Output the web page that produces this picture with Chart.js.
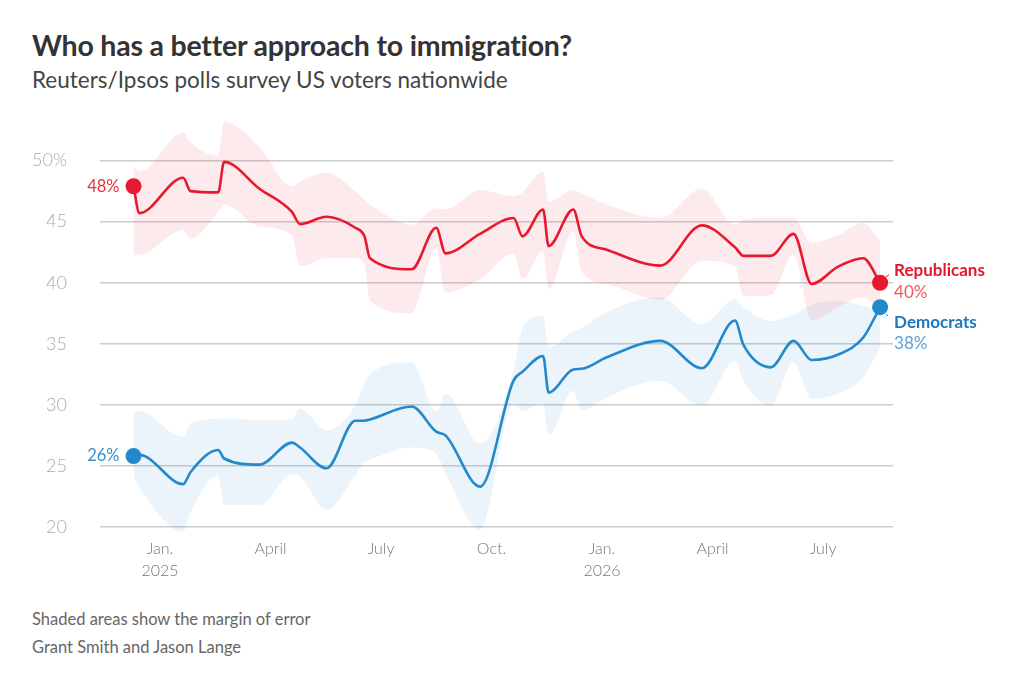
<!DOCTYPE html>
<html>
<head>
<meta charset="utf-8">
<script src="https://cdn.jsdelivr.net/npm/chart.js@4.4.1/dist/chart.umd.min.js"></script>
<style>
  html, body { margin: 0; padding: 0; background: #fff; }
  body { width: 1024px; height: 676px; position: relative; overflow: hidden; font-family: Lato, "Noto Sans", sans-serif; }
  h1 { position: absolute; left: 32px; top: 28px; margin: 0; font-size: 28.5px; font-weight: 700; color: #333; letter-spacing: -0.2px; }
  .sub { position: absolute; left: 32px; top: 66px; margin: 0; font-size: 22.5px; font-weight: 400; color: #444; }
  .note { position: absolute; left: 32px; font-size: 16.5px; color: #666; }
  #wrap { position: absolute; left: 0; top: 68px; width: 1024px; height: 532px; }
</style>
</head>
<body>
<h1>Who has a better approach to immigration?</h1>
<div class="sub">Reuters/Ipsos polls survey US voters nationwide</div>
<div id="wrap"><canvas id="chart"></canvas></div>
<div class="note" style="top:609px">Shaded areas show the margin of error</div>
<div class="note" style="top:637px">Grant Smith and Jason Lange</div>
<script>
// poll dates, in months after Jan. 1 2025
const pollMonths = [-0.72, -0.56, 0.63, 0.83, 1.58, 1.74, 2.7, 3.58, 3.8, 4.52, 5.3, 5.55, 5.7, 6.83, 7.5, 7.75, 8.69,
  9.6, 9.84, 10.4, 10.55, 11.22, 11.45, 12.13, 13.58, 14.71, 15.61, 15.84, 16.58, 17.2, 17.69, 18.4, 19.09, 19.55];

const repShare = [47.9, 45.7, 48.6, 47.5, 47.4, 49.9, 47.7, 45.8, 44.8, 45.4, 44.5, 43.8, 42.0, 41.1, 44.5, 42.4, 44.0,
  45.3, 43.8, 46.0, 43.0, 46.0, 43.8, 42.7, 41.4, 44.7, 42.9, 42.2, 42.2, 44.0, 39.9, 41.3, 42.0, 40.0];
const repHigh = [49.6, 49.1, 52.3, 51.5, 50.4, 53.2, 51.1, 47.9, 48.3, 49.0, 47.5, 46.8, 46.4, 44.75, 46.1, 46.0, 47.6,
  47.1, 47.4, 49.1, 46.65, 47.6, 47.3, 46.4, 45.3, 47.7, 44.75, 45.15, 45.3, 45.3, 43.25, 43.9, 44.9, 43.4];
const repLow = [42.3, 42.3, 44.3, 43.6, 45.8, 46.4, 44.6, 43.9, 41.35, 42.0, 42.0, 41.5, 38.5, 37.5, 42.8, 39.2, 40.3,
  42.4, 40.3, 42.6, 39.45, 44.2, 40.9, 39.9, 38.6, 41.8, 41.35, 38.9, 39.0, 42.3, 36.9, 38.0, 38.8, 37.7];

const demShare = [25.8, 25.9, 23.5, 24.5, 26.3, 25.6, 25.1, 26.9, 26.5, 24.8, 28.7, 28.7, 28.8, 29.86, 27.8, 27.5, 23.3,
  32.0, 32.7, 34.0, 31.0, 32.9, 32.95, 33.9, 35.24, 33.0, 36.9, 34.9, 33.07, 35.24, 33.67, 34.1, 35.5, 38.0];
const demHigh = [29.4, 29.48, 27.36, 28.5, 28.85, 28.9, 28.72, 28.8, 29.67, 27.9, 29.94, 31.8, 32.5, 33.47, 29.5, 30.9, 26.8,
  32.8, 36.3, 37.3, 34.7, 36.0, 36.3, 37.6, 38.8, 36.6, 38.6, 38.0, 36.87, 37.4, 38.2, 38.5, 38.1, 37.7];
const demLow = [24.1, 23.2, 19.6, 21.2, 24.2, 21.8, 21.8, 24.3, 24.1, 21.4, 24.2, 25.3, 25.5, 26.5, 26.0, 24.4, 19.76,
  30.1, 29.5, 30.1, 27.5, 31.17, 29.5, 30.6, 31.97, 29.94, 33.6, 31.97, 29.94, 33.47, 30.5, 30.9, 32.25, 34.7];

const tickMonths = [0, 3, 6, 9, 12, 15, 18];
const tickLabels = [['Jan.', '2025'], 'April', 'July', 'Oct.', ['Jan.', '2026'], 'April', 'July'];
const yTicks = [20, 25, 30, 35, 40, 45, 50];

const RED = '#e8192f', BLUE = '#2389cb';
const pts = arr => arr.map((v, i) => ({ x: pollMonths[i], y: v }));
const last = pollMonths.length - 1;

const band = (data, color, fill) => ({
  data: pts(data), borderWidth: 0, pointRadius: 0, fill: fill, backgroundColor: color,
  cubicInterpolationMode: 'monotone', order: 10
});
const line = (data, color) => ({
  data: pts(data), borderColor: color, backgroundColor: color, borderWidth: 2.6, fill: false,
  cubicInterpolationMode: 'monotone', order: 0,
  pointRadius: ctx => (ctx.dataIndex === 0 || ctx.dataIndex === last) ? 8 : 0,
  pointBorderWidth: 0
});

// start / end labels drawn next to the first and last poll
const endLabels = {
  id: 'endLabels',
  afterDatasetsDraw(chart) {
    const { ctx, scales: { x, y } } = chart;
    const x0 = x.getPixelForValue(pollMonths[0]);
    const x1 = x.getPixelForValue(pollMonths[last]);
    ctx.save();
    ctx.textBaseline = 'middle';
    ctx.font = '400 16.5px Lato, "Noto Sans", sans-serif';
    ctx.textAlign = 'right';
    ctx.fillStyle = '#e8333f';
    ctx.fillText(Math.round(repShare[0]) + '%', x0 - 14, y.getPixelForValue(repShare[0]));
    ctx.fillStyle = '#3a8fcc';
    ctx.fillText(Math.round(demShare[0]) + '%', x0 - 14, y.getPixelForValue(demShare[0]));

    const ry = y.getPixelForValue(repShare[last]);
    const dy = y.getPixelForValue(demShare[last]);
    ctx.textAlign = 'left';
    ctx.font = '700 17px Lato, "Noto Sans", sans-serif';
    ctx.fillStyle = '#e4172e';
    ctx.fillText('Republicans', x1 + 14, ry - 12);
    ctx.fillStyle = '#1a78bd';
    ctx.fillText('Democrats', x1 + 14, dy + 15);
    ctx.font = '400 17px Lato, "Noto Sans", sans-serif';
    ctx.fillStyle = '#ef5a60';
    ctx.fillText(Math.round(repShare[last]) + '%', x1 + 14, ry + 10);
    ctx.fillStyle = '#5aa2d8';
    ctx.fillText(Math.round(demShare[last]) + '%', x1 + 14, dy + 36);
    ctx.lineWidth = 1;
    ctx.strokeStyle = '#e4172e';
    ctx.beginPath(); ctx.moveTo(x1 + 6, ry - 6); ctx.lineTo(x1 + 9, ry - 8); ctx.stroke();
    ctx.strokeStyle = '#1a78bd';
    ctx.beginPath(); ctx.moveTo(x1 + 6, dy + 7); ctx.lineTo(x1 + 8, dy + 9); ctx.stroke();
    ctx.restore();
  }
};

new Chart(document.getElementById('chart').getContext('2d'), {
  type: 'line',
  data: {
    datasets: [
      line(repShare, RED),
      line(demShare, BLUE),
      band(repHigh, 'rgba(240, 60, 80, 0.11)', '+1'),
      band(repLow, 'transparent', false),
      band(demHigh, 'rgba(60, 150, 215, 0.10)', '+1'),
      band(demLow, 'transparent', false)
    ]
  },
  plugins: [endLabels],
  options: {
    responsive: true,
    maintainAspectRatio: false,
    animation: false,
    events: [],
    layout: { padding: { top: 10, bottom: 0, left: 0, right: 131 } },
    plugins: { legend: { display: false }, tooltip: { enabled: false } },
    scales: {
      x: {
        type: 'linear',
        min: -1.63,
        max: 19.9,
        afterBuildTicks: axis => { axis.ticks = tickMonths.map(v => ({ value: v })); },
        afterFit: axis => { axis.height = 67; },
        grid: { display: false },
        border: { display: false },
        ticks: {
          padding: -3,
          color: '#777',
          font: { family: 'Lato, "Noto Sans", sans-serif', size: 16, weight: 300, lineHeight: 1.35 },
          maxRotation: 0,
          autoSkip: false,
          callback: v => tickLabels[tickMonths.indexOf(v)]
        }
      },
      y: {
        min: 19.5,
        max: 54,
        afterBuildTicks: axis => { axis.ticks = yTicks.map(v => ({ value: v })); },
        afterFit: axis => { axis.width = 100; },
        grid: { color: '#cccccc', lineWidth: 1.5, drawTicks: false },
        border: { display: false },
        ticks: {
          padding: 33,
          color: '#aaa',
          font: { family: 'Lato, "Noto Sans", sans-serif', size: 18, weight: 300 },
          callback: v => v === 50 ? '50%' : String(v)
        }
      }
    }
  }
});
</script>
</body>
</html>
